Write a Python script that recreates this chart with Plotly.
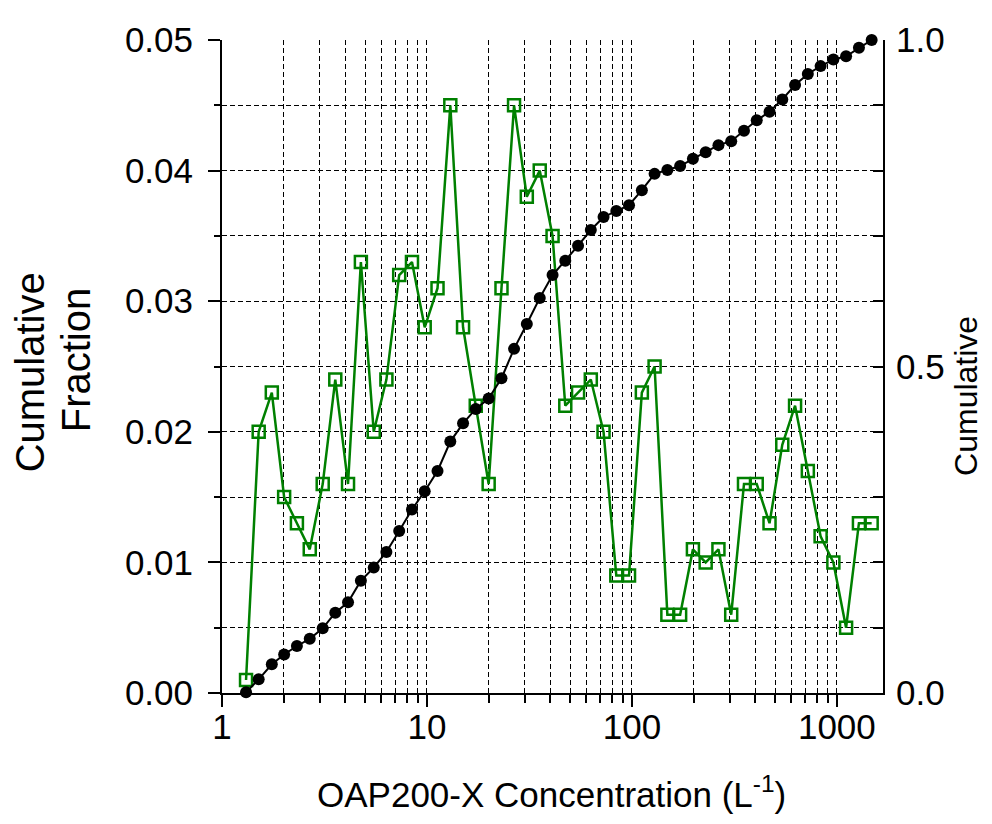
import plotly.graph_objects as go

# Concentration bin centres (L^-1)
conc = [1.31, 1.51, 1.75, 2.01, 2.32, 2.68, 3.10, 3.57, 4.12, 4.76,
        5.50, 6.34, 7.32, 8.45, 9.75, 11.26, 13.0, 15.0, 17.3, 20.0,
        23.1, 26.6, 30.7, 35.5, 41.0, 47.3, 54.6, 63.0, 72.7, 83.9,
        96.8, 111.8, 129.0, 148.9, 171.9, 198.4, 229.0, 264.3, 305.1, 352.2,
        406.4, 469.2, 541.5, 625.1, 721.5, 832.8, 961.2, 1109, 1281, 1478]

# Fraction per bin (left axis, green)
fraction = [0.001, 0.020, 0.023, 0.015, 0.013, 0.011, 0.016, 0.024, 0.016, 0.033,
            0.020, 0.024, 0.032, 0.033, 0.028, 0.031, 0.045, 0.028, 0.022, 0.016,
            0.031, 0.045, 0.038, 0.040, 0.035, 0.022, 0.023, 0.024, 0.020, 0.009,
            0.009, 0.023, 0.025, 0.006, 0.006, 0.011, 0.010, 0.011, 0.006, 0.016,
            0.016, 0.013, 0.019, 0.022, 0.017, 0.012, 0.010, 0.005, 0.013, 0.013]

# Cumulative fraction (right axis, black)
cumulative = [0.001, 0.021, 0.044, 0.059, 0.072, 0.083, 0.099, 0.123, 0.139, 0.172,
              0.192, 0.216, 0.248, 0.281, 0.309, 0.340, 0.385, 0.413, 0.435, 0.451,
              0.482, 0.527, 0.565, 0.605, 0.640, 0.662, 0.685, 0.709, 0.729, 0.738,
              0.747, 0.770, 0.795, 0.801, 0.807, 0.818, 0.828, 0.839, 0.845, 0.861,
              0.877, 0.890, 0.909, 0.931, 0.948, 0.960, 0.970, 0.975, 0.988, 1.000]

x_major = [1, 10, 100, 1000]
x_minor = [m * d for d in (1, 10, 100) for m in range(2, 10)]
left_ticks = [0.00, 0.01, 0.02, 0.03, 0.04, 0.05]
right_ticks = [0.0, 0.5, 1.0]

FONT = "Liberation Sans, Arial, sans-serif"
GREEN = "#008000"
DASH = "5px,3px"
GW = 1.4

fig = go.Figure()
fig.add_trace(go.Scatter(
    x=conc, y=fraction, mode="lines+markers", yaxis="y",
    line=dict(color=GREEN, width=2.5),
    marker=dict(symbol="square-open", size=12, color=GREEN, line=dict(width=2.5, color=GREEN)),
    cliponaxis=False, showlegend=False))
fig.add_trace(go.Scatter(
    x=conc, y=cumulative, mode="lines+markers", yaxis="y2",
    line=dict(color="black", width=2),
    marker=dict(symbol="circle", size=12, color="black"),
    cliponaxis=False, showlegend=False))

fig.update_layout(
    width=976, height=808,
    margin=dict(l=214, r=101, t=23, b=123),
    paper_bgcolor="white", plot_bgcolor="white",
    font=dict(family=FONT, size=35, color="black"),
    xaxis=dict(
        type="log", range=[0, 3.225],
        tickmode="array", tickvals=x_major, ticktext=[str(v) for v in x_major],
        ticks="outside", ticklen=12, tickwidth=1.5, tickcolor="black",
        showline=True, linecolor="black", linewidth=2,
        showgrid=True, gridcolor="black", gridwidth=GW, griddash=DASH,
        zeroline=False, ticklabelstandoff=-10,
        minor=dict(tickmode="array", tickvals=x_minor, ticks="outside", ticklen=8,
                   tickwidth=1.5, tickcolor="black",
                   showgrid=True, gridcolor="black", gridwidth=GW, griddash=DASH),
        tickfont=dict(size=35),
    ),
    yaxis=dict(
        range=[0, 0.05], tickmode="array", tickvals=left_ticks,
        ticktext=["%.2f" % v for v in left_ticks],
        ticks="outside", ticklen=12, tickwidth=1.5, tickcolor="black",
        showline=True, linecolor="black", linewidth=2,
        showgrid=True, gridcolor="black", gridwidth=GW, griddash=DASH,
        zeroline=False, ticklabelstandoff=8,
        minor=dict(dtick=0.005, tick0=0, ticks="outside", ticklen=6, tickwidth=1.5,
                   tickcolor="black", showgrid=True, gridcolor="black",
                   gridwidth=GW, griddash=DASH),
        tickfont=dict(size=35),
    ),
    yaxis2=dict(
        overlaying="y", side="right", range=[0, 1],
        tickmode="array", tickvals=right_ticks, ticktext=["%.1f" % v for v in right_ticks],
        ticks="inside", ticklen=10, tickwidth=1.5, tickcolor="black",
        showline=True, linecolor="black", linewidth=2,
        showgrid=False, zeroline=False,
        minor=dict(dtick=0.1, tick0=0, ticks="inside", ticklen=10, tickwidth=1.5,
                   tickcolor="black", showgrid=False),
        ticklabelstandoff=4,
        tickfont=dict(size=35),
    ),
    annotations=[
        dict(text="OAP200-X Concentration (L<sup>-1</sup>)", xref="paper", yref="paper",
             x=0.499, y=-0.151, xanchor="center", yanchor="middle", showarrow=False,
             font=dict(size=35)),
        dict(text="Cumulative", xref="paper", yref="paper", x=-0.2905, y=0.491,
             textangle=-90, xanchor="center", yanchor="middle", showarrow=False,
             font=dict(size=40)),
        dict(text="Fraction", xref="paper", yref="paper", x=-0.2209, y=0.511,
             textangle=-90, xanchor="center", yanchor="middle", showarrow=False,
             font=dict(size=40)),
        dict(text="Cumulative", xref="paper", yref="paper", x=1.1256, y=0.455,
             textangle=-90, xanchor="center", yanchor="middle", showarrow=False,
             font=dict(size=32)),
    ],
)

fig.write_html("out.html")
